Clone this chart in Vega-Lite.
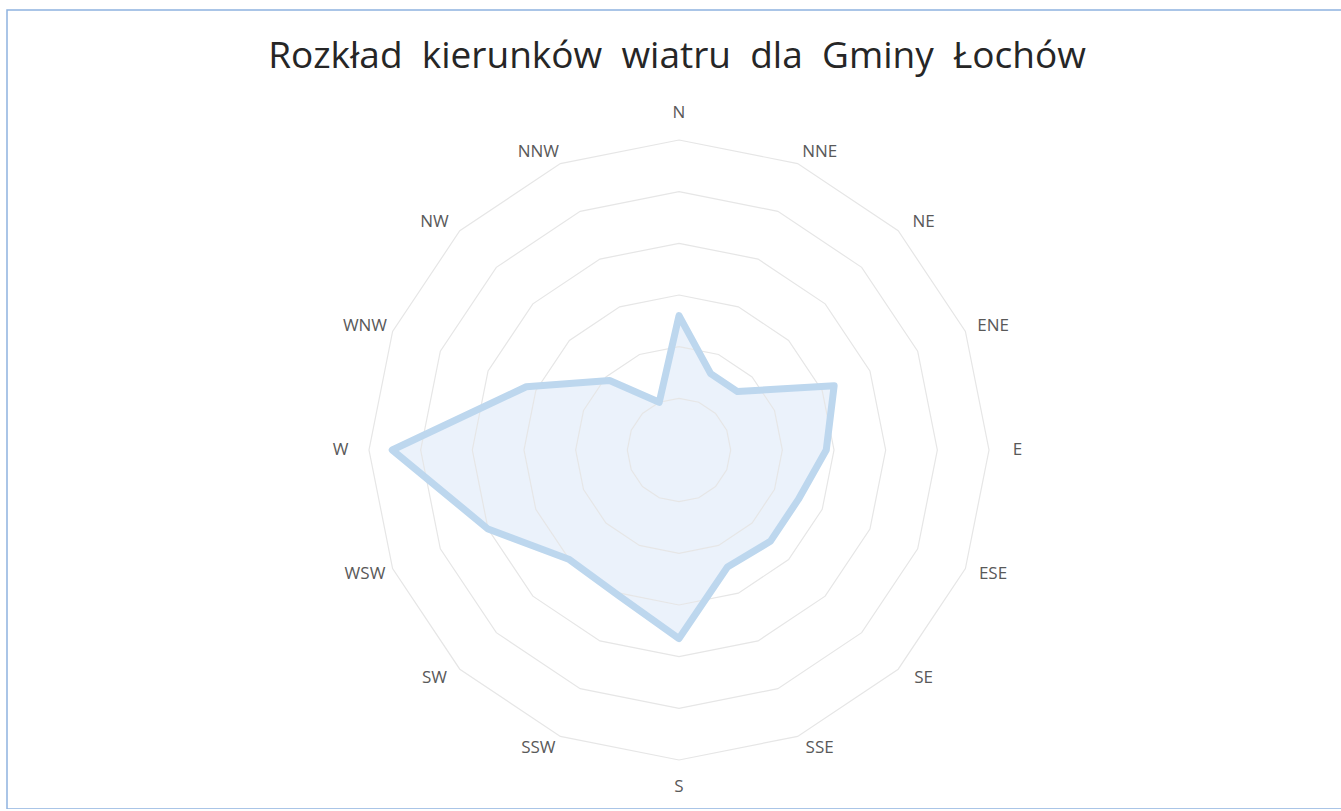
{
  "$schema": "https://vega.github.io/schema/vega-lite/v6.json",
  "width": 1340,
  "height": 799,
  "autosize": {"type": "none"},
  "padding": {"left": 7, "top": 10, "right": 0, "bottom": 0},
  "background": "white",
  "title": {
    "text": "Rozkład\u00a0 kierunków\u00a0 wiatru\u00a0 dla\u00a0 Gminy\u00a0 Łochów",
    "font": "Open Sans",
    "fontSize": 37,
    "fontWeight": "normal",
    "color": "#262626",
    "anchor": "middle",
    "baseline": "alphabetic",
    "offset": -95
  },
  "config": {
    "view": {"stroke": "#8FB3E0", "strokeWidth": 1.5}
  },
  "datasets": {
    "wind": [
      {"dir": "N", "value": 5.2},
      {"dir": "NNE", "value": 3.2},
      {"dir": "NE", "value": 3.2},
      {"dir": "ENE", "value": 6.5},
      {"dir": "E", "value": 5.7},
      {"dir": "ESE", "value": 5.0},
      {"dir": "SE", "value": 5.0},
      {"dir": "SSE", "value": 4.9},
      {"dir": "S", "value": 7.3},
      {"dir": "SSW", "value": 6.1},
      {"dir": "SW", "value": 6.0},
      {"dir": "WSW", "value": 8.0},
      {"dir": "W", "value": 11.1},
      {"dir": "WNW", "value": 6.4},
      {"dir": "NW", "value": 3.8},
      {"dir": "NNW", "value": 2.0}
    ],
    "rings": [
      {"level": 2}, {"level": 4}, {"level": 6}, {"level": 8}, {"level": 10}, {"level": 12}
    ]
  },
  "layer": [
    {
      "data": {"name": "wind"},
      "transform": [
        {"calculate": "indexof(['N','NNE','NE','ENE','E','ESE','SE','SSE','S','SSW','SW','WSW','W','WNW','NW','NNW'], datum.dir)", "as": "idx"},
        {"calculate": "datum.value * sin(datum.idx * PI / 8)", "as": "px"},
        {"calculate": "datum.value * cos(datum.idx * PI / 8)", "as": "py"}
      ],
      "mark": {"type": "line", "interpolate": "linear-closed", "fill": "#E8F0FA", "fillOpacity": 0.85, "strokeWidth": 0},
      "encoding": {
        "x": {"field": "px", "type": "quantitative", "scale": {"domain": [-26.013, 25.858], "zero": false, "nice": false}, "axis": null},
        "y": {"field": "py", "type": "quantitative", "scale": {"domain": [-13.897, 17.032], "zero": false, "nice": false}, "axis": null},
        "order": {"field": "idx", "type": "quantitative"}
      }
    },
    {
      "data": {"name": "rings"},
      "transform": [
        {"calculate": "['N','NNE','NE','ENE','E','ESE','SE','SSE','S','SSW','SW','WSW','W','WNW','NW','NNW']", "as": "dirs"},
        {"flatten": ["dirs"], "as": ["dir"]},
        {"calculate": "indexof(['N','NNE','NE','ENE','E','ESE','SE','SSE','S','SSW','SW','WSW','W','WNW','NW','NNW'], datum.dir)", "as": "idx"},
        {"calculate": "datum.level * sin(datum.idx * PI / 8)", "as": "px"},
        {"calculate": "datum.level * cos(datum.idx * PI / 8)", "as": "py"}
      ],
      "mark": {"type": "line", "interpolate": "linear-closed", "stroke": "#E6E6E6", "strokeWidth": 1.2},
      "encoding": {
        "x": {"field": "px", "type": "quantitative", "axis": null},
        "y": {"field": "py", "type": "quantitative", "axis": null},
        "detail": {"field": "level", "type": "nominal"},
        "order": {"field": "idx", "type": "quantitative"}
      }
    },
    {
      "data": {"name": "wind"},
      "transform": [
        {"calculate": "indexof(['N','NNE','NE','ENE','E','ESE','SE','SSE','S','SSW','SW','WSW','W','WNW','NW','NNW'], datum.dir)", "as": "idx"},
        {"calculate": "datum.value * sin(datum.idx * PI / 8)", "as": "px"},
        {"calculate": "datum.value * cos(datum.idx * PI / 8)", "as": "py"}
      ],
      "mark": {"type": "line", "interpolate": "linear-closed", "stroke": "#BDD7EE", "strokeWidth": 7, "strokeJoin": "round"},
      "encoding": {
        "x": {"field": "px", "type": "quantitative", "axis": null},
        "y": {"field": "py", "type": "quantitative", "axis": null},
        "order": {"field": "idx", "type": "quantitative"}
      }
    },
    {
      "data": {"name": "wind"},
      "transform": [
        {"calculate": "indexof(['N','NNE','NE','ENE','E','ESE','SE','SSE','S','SSW','SW','WSW','W','WNW','NW','NNW'], datum.dir)", "as": "idx"},
        {"calculate": "sin(datum.idx * PI / 8)", "as": "s"},
        {"calculate": "cos(datum.idx * PI / 8)", "as": "c"},
        {"calculate": "12.4 * datum.s + (datum.s > 0.01 ? 0.7 : datum.s < -0.01 ? -0.7 : 0)", "as": "px"},
        {"calculate": "12.5 * datum.c + (datum.c > 0.99 ? 0.55 : datum.c < -0.99 ? -0.55 : 0)", "as": "py"}
      ],
      "mark": {"type": "text", "font": "Open Sans", "fontSize": 17, "color": "#595959", "align": "center", "baseline": "middle"},
      "encoding": {
        "x": {"field": "px", "type": "quantitative", "axis": null},
        "y": {"field": "py", "type": "quantitative", "axis": null},
        "text": {"field": "dir", "type": "nominal"}
      }
    }
  ]
}
